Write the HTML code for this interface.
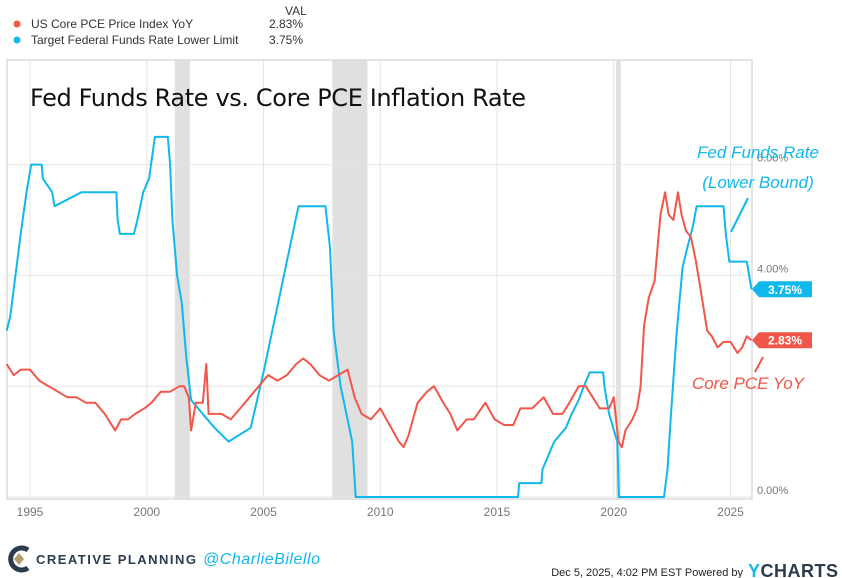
<!DOCTYPE html>
<html><head><meta charset="utf-8">
<style>
body{margin:0;width:842px;height:578px;background:#fff;overflow:hidden;font-family:"Liberation Sans",sans-serif;}
svg{position:absolute;left:0;top:0;}
</style></head>
<body>
<svg id="chart" width="842" height="578">
  <g>
    <text x="285" y="15" font-size="12" fill="#333">VAL</text>
    <circle cx="17" cy="24" r="3.5" fill="#f2564a"/>
    <text x="31" y="28" font-size="12" fill="#333">US Core PCE Price Index YoY</text>
    <text x="303" y="28" font-size="12" fill="#333" text-anchor="end">2.83%</text>
    <circle cx="17" cy="40" r="3.5" fill="#10b8ec"/>
    <text x="31" y="44" font-size="12" fill="#333">Target Federal Funds Rate Lower Limit</text>
    <text x="303" y="44" font-size="12" fill="#333" text-anchor="end">3.75%</text>
  </g>
  <g id="plot"></g>
  <text x="30" y="106" font-size="24" fill="#111" font-family="'DejaVu Sans',sans-serif" textLength="496">Fed Funds Rate vs. Core PCE Inflation Rate</text>
  <g>
    <text x="758" y="158" font-size="17" fill="#10b8ec" font-style="italic" text-anchor="middle">Fed Funds Rate</text>
    <text x="758" y="188" font-size="17" fill="#10b8ec" font-style="italic" text-anchor="middle">(Lower Bound)</text>
    <line x1="748" y1="198" x2="731" y2="232" stroke="#10b8ec" stroke-width="2"/>
    <text x="748" y="389" font-size="17" fill="#f2564a" font-style="italic" text-anchor="middle">Core PCE YoY</text>
    <line x1="763" y1="357" x2="755" y2="372" stroke="#f2564a" stroke-width="2"/>
  </g>
  <g>
    <g>
      <path d="M28 550 A11 11 0 1 0 28 568" fill="none" stroke="#2b3c4e" stroke-width="5"/>
      <path d="M19 553 L24 559 L19 565 L14 559 Z" fill="#b59a6b"/>
    </g>
    <text x="36" y="564" font-size="13" font-weight="bold" fill="#2b3c4e" textLength="160">CREATIVE PLANNING</text>
    <text x="203" y="564" font-size="16" fill="#10b8ec" font-style="italic" textLength="117">@CharlieBilello</text>
    <text x="743" y="576" font-size="11" fill="#222" text-anchor="end">Dec 5, 2025, 4:02 PM EST Powered by</text>
    <text x="748" y="577" font-size="18" font-weight="bold" fill="#2b3c4e" textLength="90"><tspan fill="#10b8ec">Y</tspan>CHARTS</text>
  </g>
</svg>
<script>
const xTicks=[1995,2000,2005,2010,2015,2020,2025];
const yTicks=[0,2,4,6];
const yTickLabels=["0.00%","","4.00%","6.00%"];
const recessions=[[2001.2,2001.85],[2007.95,2009.45],[2020.1,2020.3]];
const ffrYears=[1994.0,1994.15,1994.3,1994.45,1994.6,1994.85,1995.05,1995.5,1995.55,1995.95,1996.05,1997.2,1998.7,1998.75,1998.85,1999.45,1999.6,1999.85,2000.1,2000.35,2000.9,2001.0,2001.1,2001.3,2001.5,2001.7,2001.9,2002.9,2003.5,2004.45,2005.0,2006.5,2007.65,2007.85,2008.0,2008.3,2008.8,2008.95,2015.9,2015.95,2016.9,2016.95,2017.2,2017.45,2017.95,2018.2,2018.5,2018.72,2018.97,2019.55,2019.6,2019.7,2019.8,2020.15,2020.22,2022.15,2022.3,2022.45,2022.7,2022.95,2023.15,2023.4,2023.55,2024.7,2024.8,2024.95,2025.7,2025.9];
const ffrValues=[3.0,3.25,3.75,4.25,4.75,5.5,6.0,6.0,5.75,5.5,5.25,5.5,5.5,5.0,4.75,4.75,5.0,5.5,5.75,6.5,6.5,6.0,5.0,4.0,3.5,2.5,1.75,1.25,1.0,1.25,2.25,5.25,5.25,4.5,3.0,2.0,1.0,0.0,0.0,0.25,0.25,0.5,0.75,1.0,1.25,1.5,1.75,2.0,2.25,2.25,2.0,1.75,1.5,1.0,0.0,0.0,0.5,1.5,3.0,4.15,4.5,4.9,5.25,5.25,4.75,4.25,4.25,3.75];
const pceYears=[1994.0,1994.3,1994.6,1995.0,1995.4,1995.8,1996.2,1996.6,1997.0,1997.4,1997.8,1998.2,1998.5,1998.65,1998.9,1999.2,1999.5,1999.9,2000.2,2000.6,2001.0,2001.4,2001.6,2001.8,2001.9,2002.1,2002.4,2002.55,2002.65,2002.8,2003.2,2003.6,2004.0,2004.4,2004.8,2005.2,2005.6,2006.0,2006.4,2006.7,2007.0,2007.4,2007.8,2008.2,2008.6,2008.9,2009.2,2009.6,2010.0,2010.4,2010.8,2011.0,2011.2,2011.6,2012.0,2012.3,2012.7,2013.0,2013.3,2013.7,2014.0,2014.5,2014.9,2015.3,2015.7,2016.0,2016.5,2017.0,2017.4,2017.8,2018.1,2018.5,2018.8,2019.1,2019.4,2019.8,2020.0,2020.2,2020.35,2020.5,2020.8,2021.0,2021.15,2021.3,2021.5,2021.75,2022.0,2022.2,2022.35,2022.55,2022.75,2022.9,2023.1,2023.3,2023.5,2023.7,2024.0,2024.2,2024.45,2024.7,2025.0,2025.3,2025.5,2025.7,2025.9];
const pceValues=[2.4,2.2,2.3,2.3,2.1,2.0,1.9,1.8,1.8,1.7,1.7,1.5,1.3,1.2,1.4,1.4,1.5,1.6,1.7,1.9,1.9,2.0,2.0,1.8,1.2,1.7,1.7,2.4,1.5,1.5,1.5,1.4,1.6,1.8,2.0,2.2,2.1,2.2,2.4,2.5,2.4,2.2,2.1,2.2,2.3,1.8,1.5,1.4,1.6,1.3,1.0,0.9,1.1,1.7,1.9,2.0,1.7,1.5,1.2,1.4,1.4,1.7,1.4,1.3,1.3,1.6,1.6,1.8,1.5,1.5,1.7,2.0,2.0,1.8,1.6,1.6,1.8,1.0,0.9,1.2,1.4,1.6,2.0,3.1,3.6,3.9,5.1,5.5,5.1,5.0,5.5,5.1,4.8,4.7,4.3,3.8,3.0,2.9,2.7,2.8,2.8,2.6,2.7,2.9,2.83];

const NS="http://www.w3.org/2000/svg";
const L=7,R=752,T=60,B=499;
function xs(yr){return 30+(yr-1995)*23.35;}
function ys(v){return 497-55.4*v;}
const g=document.getElementById('plot');
function mk(tag,attrs,parent){const e=document.createElementNS(NS,tag);for(const k in attrs)e.setAttribute(k,attrs[k]);(parent||g).appendChild(e);return e;}

recessions.forEach(r=>{
  const e=mk('rect',{x:xs(r[0]),y:T,width:xs(r[1])-xs(r[0]),height:B-T,fill:'#e0e0e0'});
  
  
});
xTicks.forEach(t=>{
  const e=mk('line',{x1:xs(t),x2:xs(t),y1:T,y2:B,stroke:'#e6e6e6','stroke-width':1});
  
  
  const tx=mk('text',{x:xs(t),y:516,'font-size':12,fill:'#777','text-anchor':'middle'});
  tx.textContent=t;
  
  
});
yTicks.forEach((t,i)=>{
  const e=mk('line',{x1:L,x2:R,y1:ys(t),y2:ys(t),stroke:'#e6e6e6','stroke-width':1});
  
  
  if(yTickLabels[i]){
    const tx=mk('text',{x:757,y:ys(t)-3,'font-size':11,fill:'#777'});
    tx.textContent=yTickLabels[i];
    
    
  }
});
const fr=mk('rect',{x:L,y:T,width:R-L,height:B-T,fill:'none',stroke:'#dcdcdc','stroke-width':1.5});



function line(xsArr,vals,color,name){
  const d=xsArr.map((y,i)=>(i?'L':'M')+xs(y).toFixed(1)+' '+ys(vals[i]).toFixed(1)).join(' ');
  const p=mk('path',{d:d,fill:'none',stroke:color,'stroke-width':2,'stroke-linejoin':'round'});
  
  
}
line(ffrYears,ffrValues,'#10b8ec','ffr-line');
line(pceYears,pceValues,'#f2564a','pce-line');

function tag(v,color,name){
  const y=ys(v);
  const gg=mk('g',{});
  
  
  mk('path',{d:`M752 ${y} L759 ${y-8} L812 ${y-8} L812 ${y+8} L759 ${y+8} Z`,fill:color},gg);
  const t=mk('text',{x:785,y:y+4.5,'font-size':12,'font-weight':'bold',fill:'#fff','text-anchor':'middle'},gg);
  t.textContent=v.toFixed(2)+'%';
}
tag(ffrValues[ffrValues.length-1],'#10b8ec','ffr-value-tag');
tag(pceValues[pceValues.length-1],'#f2564a','pce-value-tag');
</script>
</body></html>
